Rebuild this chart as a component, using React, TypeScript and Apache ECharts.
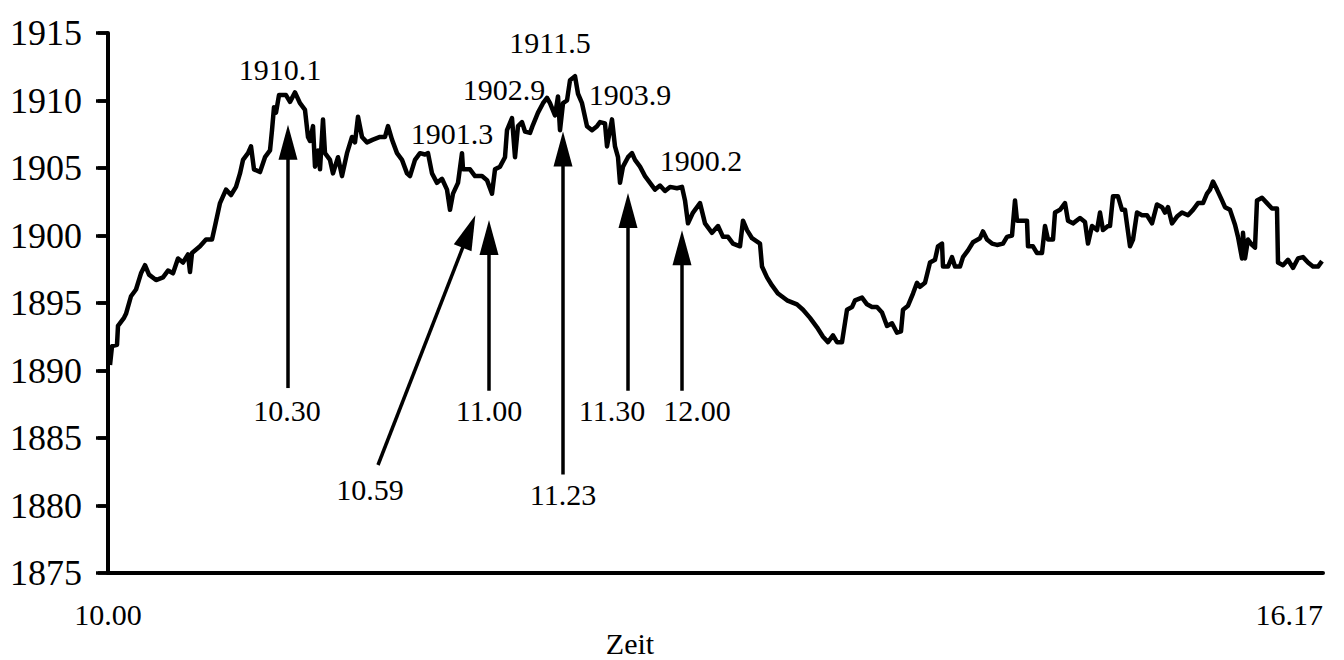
import React, { useEffect, useRef } from "react";
import * as echarts from "echarts";

// tick-by-tick index (transaction counter) and index level
const tickIndex = [
  2, 4, 9, 10, 16, 18, 23, 28, 33, 37, 41, 48, 55, 60, 65, 70, 75, 80, 82, 84,
  92, 98, 104, 107, 112, 118, 123, 128, 132, 135, 140, 143, 146, 152, 157, 162, 164, 166, 168, 171,
  178, 182, 187, 192, 197, 200, 202, 205, 207, 210, 212, 215, 217, 222, 225, 230, 234, 239, 244, 247,
  250, 254, 259, 265, 272, 277, 280, 284, 289, 294, 299, 302, 307, 312, 317, 320, 324, 329, 334, 339,
  342, 345, 350, 354, 355, 362, 367, 374, 379, 384, 387, 392, 397, 399, 404, 407, 410, 414, 417, 422,
  425, 430, 435, 439, 442, 447, 450, 452, 455, 459, 462, 467, 470, 474, 479, 484, 489, 492, 497, 499,
  504, 507, 510, 512, 515, 520, 524, 527, 532, 537, 542, 547, 552, 557, 562, 569, 574, 577, 580, 585,
  592, 597, 604, 610, 615, 620, 625, 632, 635, 639, 644, 652, 654, 659, 664, 670, 679, 689, 695, 702,
  709, 715, 720, 725, 729, 734, 739, 744, 747, 754, 759, 764, 769, 774, 779, 784, 789, 793, 795, 800,
  805, 809, 812, 817, 822, 827, 830, 834, 835, 840, 844, 847, 852, 855, 860, 865, 872, 875, 879, 884,
  889, 895, 899, 904, 907, 909, 919, 920, 925, 929, 934, 937, 940, 945, 947, 952, 957, 960, 965, 972,
  977, 980, 984, 989, 992, 995, 1000, 1002, 1005, 1010, 1014, 1017, 1022, 1025, 1029, 1034, 1039, 1044, 1049, 1054,
  1057, 1060, 1064, 1069, 1074, 1080, 1085, 1090, 1095, 1099, 1102, 1105, 1109, 1114, 1117, 1122, 1127, 1130, 1134, 1135,
  1137, 1140, 1144, 1147, 1149, 1154, 1159, 1164, 1169, 1170, 1175, 1180, 1185, 1190, 1195, 1200, 1205, 1210, 1214,
];

const price = [
  1890.4, 1891.8, 1891.9, 1893.3, 1893.9, 1894.2, 1895.5, 1896.0, 1897.2, 1897.8, 1897.1, 1896.7, 1896.9, 1897.4, 1897.2, 1898.3, 1898.0, 1898.6, 1897.3, 1898.7,
  1899.2, 1899.7, 1899.7, 1900.7, 1902.4, 1903.4, 1903.0, 1903.6, 1904.6, 1905.6, 1906.1, 1906.6, 1904.9, 1904.7, 1905.8, 1906.3, 1907.8, 1909.5, 1909.1, 1910.4,
  1910.4, 1909.9, 1910.6, 1909.8, 1909.3, 1907.3, 1907.0, 1908.1, 1905.1, 1906.3, 1904.9, 1908.6, 1906.1, 1905.6, 1904.6, 1905.8, 1904.4, 1906.1, 1907.3, 1906.9,
  1908.8, 1907.3, 1906.9, 1907.1, 1907.3, 1907.3, 1908.1, 1907.1, 1906.1, 1905.6, 1904.6, 1904.4, 1905.6, 1906.1, 1906.0, 1906.1, 1904.6, 1903.9, 1904.2, 1903.4,
  1901.9, 1903.1, 1903.9, 1906.1, 1904.9, 1904.9, 1904.4, 1904.4, 1904.1, 1903.1, 1904.9, 1905.1, 1905.8, 1907.8, 1908.7, 1905.8, 1908.1, 1908.4, 1907.7, 1907.6,
  1908.2, 1909.1, 1909.8, 1910.2, 1909.8, 1908.9, 1910.3, 1907.8, 1909.8, 1910.0, 1911.5, 1911.8, 1910.5, 1909.8, 1908.1, 1907.8, 1908.1, 1908.4, 1908.3, 1906.6,
  1908.6, 1906.6, 1905.8, 1903.9, 1905.1, 1905.8, 1906.1, 1905.6, 1905.1, 1904.4, 1903.9, 1903.4, 1903.7, 1903.3, 1903.6, 1903.5, 1903.6, 1902.6, 1900.9, 1901.7,
  1902.4, 1900.9, 1900.2, 1900.7, 1899.9, 1899.9, 1899.4, 1899.2, 1901.1, 1900.4, 1899.8, 1899.4, 1897.7, 1896.9, 1896.3, 1895.7, 1895.2, 1894.9, 1894.5, 1893.9,
  1893.2, 1892.5, 1892.1, 1892.6, 1892.1, 1892.1, 1894.5, 1894.7, 1895.2, 1895.4, 1894.9, 1894.7, 1894.7, 1894.3, 1893.3, 1893.5, 1892.8, 1892.9, 1894.5, 1894.8,
  1895.7, 1896.5, 1896.2, 1896.5, 1898.0, 1898.2, 1899.2, 1899.4, 1897.7, 1897.7, 1898.4, 1897.7, 1897.7, 1898.4, 1898.9, 1899.5, 1899.8, 1900.3, 1899.7, 1899.4,
  1899.3, 1899.4, 1899.9, 1900.0, 1902.6, 1901.1, 1901.1, 1899.2, 1899.2, 1898.7, 1898.7, 1900.7, 1899.7, 1899.7, 1901.7, 1901.9, 1902.4, 1901.1, 1900.9, 1901.3,
  1901.0, 1899.4, 1900.7, 1900.4, 1901.7, 1900.4, 1900.7, 1900.7, 1902.9, 1902.9, 1901.9, 1901.9, 1899.2, 1899.7, 1901.7, 1901.5, 1901.5, 1900.9, 1902.3, 1902.1,
  1901.7, 1902.1, 1900.9, 1901.4, 1901.7, 1901.5, 1901.9, 1902.4, 1902.4, 1903.1, 1903.4, 1904.0, 1903.4, 1902.6, 1902.1, 1901.9, 1900.8, 1899.9, 1898.3, 1900.2,
  1898.3, 1899.7, 1899.3, 1899.1, 1902.6, 1902.8, 1902.4, 1902.0, 1902.0, 1898.0, 1897.8, 1898.2, 1897.6, 1898.3, 1898.4, 1898.0, 1897.7, 1897.7, 1898.1,
];

const tickSpan = 1215;
const yMin = 1875;
const yMax = 1915;
const yStep = 5;
const startLabel = "10.00";
const endLabel = "16.17";
const axisTitle = "Zeit";

// arrows: time label, tail (index, level) and arrow-head centre (index, level)
const arrowTimes = ["10.30", "10.59", "11.00", "11.23", "11.30", "12.00"];
const arrowTailIndex = [180, 270, 381, 455, 520, 574];
const arrowTailValue = [1888.7, 1883.0, 1888.5, 1882.3, 1888.5, 1888.5];
const arrowHeadIndex = [180, 361, 381, 455, 520, 574];
const arrowHeadValue = [1906.9, 1900.3, 1899.85, 1906.4, 1901.85, 1899.1];
const timeLabelIndex = [179, 262, 381, 455, 504, 589];
const timeLabelValue = [1887.07, 1881.15, 1887.07, 1880.78, 1887.07, 1887.07];

// price annotations
const priceLabels = ["1910.1", "1901.3", "1902.9", "1911.5", "1903.9", "1900.2"];
const priceLabelIndex = [172, 344, 396, 442, 522, 593];
const priceLabelValue = [1912.33, 1907.59, 1910.85, 1914.26, 1910.41, 1905.59];

const FONT = '"Liberation Serif", "DejaVu Serif", "Times New Roman", serif';

export default function App() {
  const ref = useRef<HTMLDivElement>(null);

  useEffect(() => {
    document.body.style.margin = "0";
    const chart = echarts.init(ref.current!, null, { renderer: "svg" });

    const markLineData = arrowTimes.map((_, i) => [
      { coord: [arrowTailIndex[i], arrowTailValue[i]], symbol: "none" },
      {
        coord: [arrowHeadIndex[i], arrowHeadValue[i]],
        symbol: "triangle",
        symbolSize: [19, 35],
      },
    ]);

    const markPointData = [
      ...arrowTimes.map((t, i) => ({
        name: t,
        coord: [timeLabelIndex[i], timeLabelValue[i]],
        label: { formatter: t },
      })),
      ...priceLabels.map((t, i) => ({
        name: t,
        coord: [priceLabelIndex[i], priceLabelValue[i]],
        label: { formatter: t },
      })),
    ];

    chart.setOption({
      animation: false,
      backgroundColor: "#fff",
      grid: { left: 108, right: 21, top: 33, bottom: 87, containLabel: false },
      xAxis: {
        type: "value",
        min: 0,
        max: tickSpan,
        interval: tickSpan,
        axisLine: { show: true, onZero: false, lineStyle: { color: "#000", width: 4 } },
        axisTick: { show: false },
        splitLine: { show: false },
        axisLabel: {
          showMinLabel: true,
          showMaxLabel: true,
          alignMaxLabel: "right",
          color: "#000",
          fontFamily: FONT,
          fontSize: 30,
          margin: 26,
          formatter: (v: number) => (v === 0 ? startLabel : v === tickSpan ? endLabel : ""),
        },
      },
      yAxis: [
        {
          type: "value",
          min: yMin,
          max: yMax,
          interval: yStep,
          axisLine: { show: true, onZero: false, lineStyle: { color: "#000", width: 4 } },
          axisTick: { show: true, length: 10, lineStyle: { color: "#000", width: 3.5 } },
          splitLine: { show: false },
          axisLabel: {
            color: "#000",
            fontFamily: FONT,
            fontSize: 36,
            margin: 26,
            formatter: (v: number) => String(v),
          },
        },
        {
          type: "value",
          min: yMin,
          max: yMax,
          interval: yStep,
          axisLine: { show: false },
          axisTick: { show: true, inside: true, length: 12, lineStyle: { color: "#000", width: 3.5 } },
          splitLine: { show: false },
          axisLabel: { show: false },
        },
      ],
      graphic: [
        {
          type: "text",
          x: 630,
          y: 643,
          style: {
            text: axisTitle,
            fill: "#000",
            fontFamily: FONT,
            fontSize: 30,
            textAlign: "center",
            textVerticalAlign: "middle",
          },
        },
      ],
      series: [
        {
          type: "line",
          data: tickIndex.map((x, i) => [x, price[i]]),
          showSymbol: false,
          symbol: "none",
          silent: true,
          color: "#000",
          lineStyle: { color: "#000", width: 4.5, join: "round" },
          markLine: {
            silent: true,
            emphasis: { disabled: true },
            label: { show: false },
            itemStyle: { color: "#000" },
            lineStyle: { color: "#000", width: 3.5, type: "solid" },
            data: markLineData,
          },
          markPoint: {
            silent: true,
            symbol: "circle",
            symbolSize: 1,
            itemStyle: { color: "rgba(0,0,0,0)" },
            label: {
              show: true,
              position: "inside",
              color: "#000",
              fontFamily: FONT,
              fontSize: 30,
            },
            data: markPointData,
          },
        },
      ],
    });

    return () => chart.dispose();
  }, []);

  return (
    <div
      ref={ref}
      style={{ position: "fixed", left: 0, top: 0, width: 1344, height: 660, background: "#fff" }}
    />
  );
}
